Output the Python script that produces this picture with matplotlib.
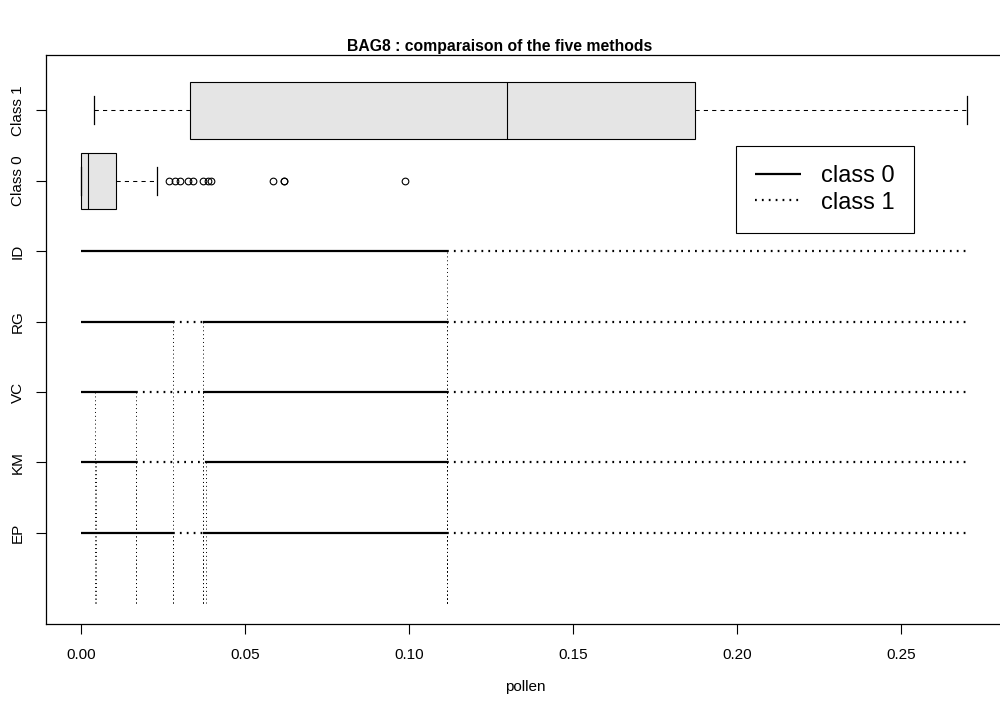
import matplotlib
matplotlib.use("Agg")
import matplotlib.pyplot as plt

plt.rcParams['font.family'] = ['Liberation Sans', 'DejaVu Sans']

# boxplot summaries of pollen per class
box_labels = ["Class 0", "Class 1"]
box_pos = [6, 7]
c0_stats = {"whislo": 0.0, "q1": 0.0, "med": 0.0023, "q3": 0.0108, "whishi": 0.0232,
            "fliers": [0.0268, 0.0287, 0.0302, 0.0327, 0.0342, 0.0373, 0.0386, 0.0398,
                       0.0586, 0.0620, 0.0620, 0.0989]}
c1_stats = {"whislo": 0.0041, "q1": 0.0334, "med": 0.1299, "q3": 0.1873, "whishi": 0.27,
            "fliers": []}

# segmentation of the pollen axis by each method: cut points and class per segment
methods = ["EP", "KM", "VC", "RG", "ID"]
cuts = {
    "EP": [0, 0.028, 0.0372, 0.1117, 0.27],
    "KM": [0, 0.0046, 0.0168, 0.0381, 0.1117, 0.27],
    "VC": [0, 0.0044, 0.0168, 0.0372, 0.1117, 0.27],
    "RG": [0, 0.028, 0.0372, 0.1117, 0.27],
    "ID": [0, 0.1117, 0.27],
}
seg_class = {
    "EP": [0, 1, 0, 1],
    "KM": [0, 0, 1, 0, 1],
    "VC": [0, 0, 1, 0, 1],
    "RG": [0, 1, 0, 1],
    "ID": [0, 1],
}
xticks = [0.0, 0.05, 0.10, 0.15, 0.20, 0.25]

fig = plt.figure(figsize=(10, 7.05), dpi=100)
ax = fig.add_axes([0.0455, 0.1153, 0.9595, 0.8071])  # right edge just off the picture

# boxplots
ax.bxp([c0_stats, c1_stats], positions=box_pos, widths=0.8, orientation="horizontal",
       patch_artist=True, capwidths=0.4,
       boxprops=dict(facecolor="#e5e5e5", edgecolor="black", linewidth=0.8),
       medianprops=dict(color="black", linewidth=0.8),
       whiskerprops=dict(color="black", linewidth=0.75, linestyle=(0, (4, 4))),
       capprops=dict(color="black", linewidth=0.9),
       flierprops=dict(marker="o", markerfacecolor="none", markeredgecolor="black",
                       markersize=4.8, markeredgewidth=0.8))

# method segmentations
solid = (0, ())
dotted = (0, (0.8, 2.3))
for i, m in enumerate(methods):
    y = i + 1
    c = cuts[m]
    for k, cl in enumerate(seg_class[m]):
        ax.plot([c[k], c[k + 1]], [y, y], color="black", lw=1.6,
                linestyle=solid if cl == 0 else dotted, solid_capstyle="butt",
                dash_capstyle="butt")
    ax.vlines(c[1:-1], 0, y, colors="black", linewidth=0.7, linestyles=(0, (1, 3)))

ax.set_xlim(-0.0108, 0.2817)
ax.set_ylim(-0.29, 7.79)

ax.set_xticks(xticks)
ax.set_xticklabels(["%.2f" % v for v in xticks])
ax.set_yticks([1, 2, 3, 4, 5] + box_pos)
ax.set_yticklabels(methods + box_labels, rotation=90, va="center")
ax.tick_params(axis="both", direction="out", length=7, width=0.8, labelsize=11, color="black")
ax.tick_params(axis="x", pad=10.5)
ax.tick_params(axis="y", pad=8)
for s in ax.spines.values():
    s.set_linewidth(0.9)

ax.set_xlabel("pollen", fontsize=11, labelpad=13)
fig.text(0.5, 1 - 46 / 705, "BAG8 : comparaison of the five methods", ha="center", va="center",
         fontsize=11.3, fontweight="bold")

# legend
h0, = ax.plot([], [], color="black", lw=1.6, linestyle=solid)
h1, = ax.plot([], [], color="black", lw=1.6, linestyle=dotted)
leg = fig.legend([h0, h1], ["class 0", "class 1"], loc="upper left",
                 bbox_to_anchor=(736 / 1000, 1 - 146 / 705), borderaxespad=0,
                 fontsize=17, handlelength=1.95, handletextpad=0.85, borderpad=0.8,
                 labelspacing=0.2, fancybox=False, framealpha=1, edgecolor="black")
leg.get_frame().set_linewidth(0.8)

fig.savefig("out.png", dpi=100)
